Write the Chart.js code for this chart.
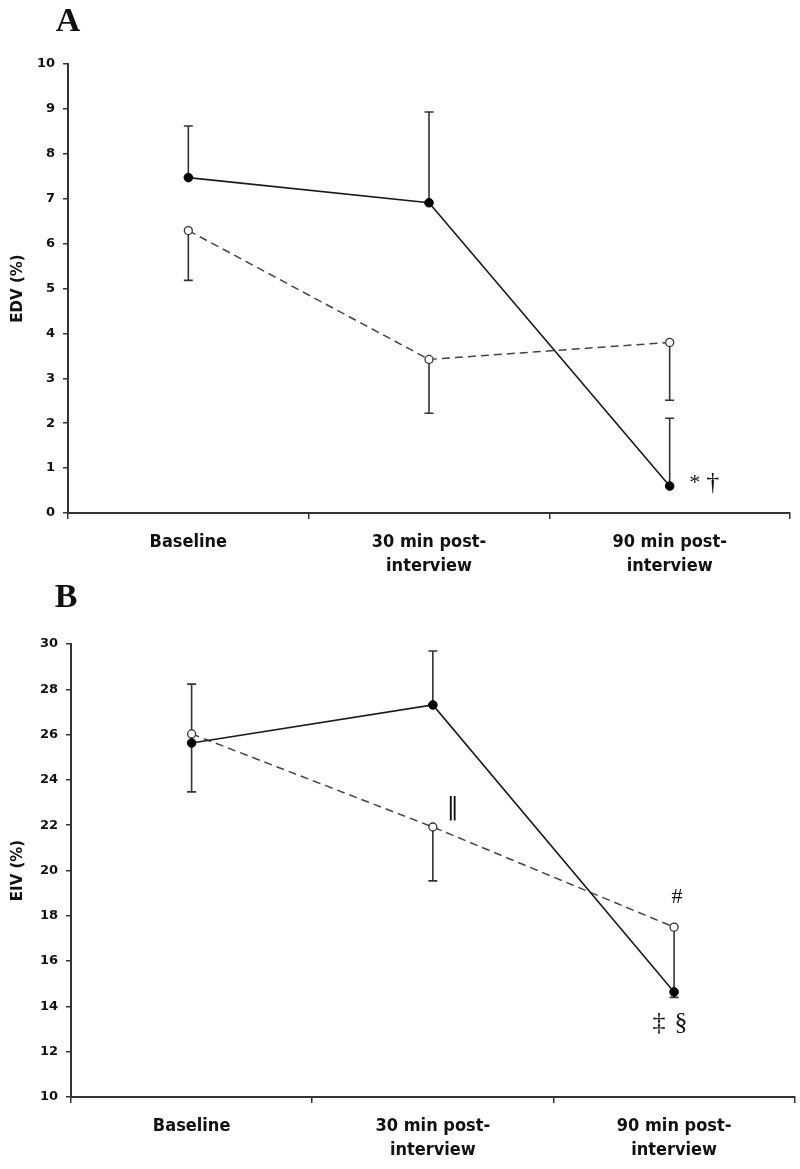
<!DOCTYPE html>
<html>
<head>
<meta charset="utf-8">
<script src="https://cdn.jsdelivr.net/npm/chart.js@4.4.1/dist/chart.umd.min.js"></script>
<style>
  html, body { margin: 0; padding: 0; background: #fff; }
  body { width: 800px; height: 1169px; position: relative; overflow: hidden; }
  .box { position: absolute; left: 0; width: 800px; }
  #boxA { top: 0; height: 580px; }
  #boxB { top: 580px; height: 589px; }
</style>
</head>
<body>
<div class="box" id="boxA"><canvas id="chartA"></canvas></div>
<div class="box" id="boxB"><canvas id="chartB"></canvas></div>
<script>
// ---- data ----
const categories = ['Baseline', ['30 min post-', 'interview'], ['90 min post-', 'interview']];

// Panel A : EDV (%)
const edvSolid = [7.47, 6.91, 0.60];
const edvSolidSD = [1.15, 2.02, 1.51];     // drawn upward
const edvDashed = [6.29, 3.42, 3.80];
const edvDashedSD = [1.11, 1.20, 1.29];    // drawn downward
const edvTicks = { min: 0, max: 10, step: 1 };

// Panel B : EIV (%)
const eivSolid = [25.63, 27.31, 14.64];
const eivSolidSD = [2.60, 2.38, null];     // drawn upward
const eivDashed = [26.03, 21.92, 17.50];
const eivDashedSD = [2.56, 2.38, 3.10];    // drawn downward
const eivTicks = { min: 10, max: 30, step: 2 };

// significance marks: [text, category index, dataset index]
const edvMarks = [['*', 2, 0], ['\u2020', 2, 0]];
const eivMarks = [['\u2016', 1, 1], ['#', 2, 1], ['\u2021', 2, 0], ['\u00A7', 2, 0]];

// ---- styling ----
const INK = '#1a1a1a';
const DASH = '#444';
const tickFont = { family: "'DejaVu Sans', Verdana, sans-serif", size: 13, weight: 'bold' };
const catFont = { family: "'DejaVu Sans Condensed', 'DejaVu Sans', sans-serif", size: 18, weight: 'bold', lineHeight: 1.3 };
const titleFont = { family: "'DejaVu Sans', Verdana, sans-serif", size: 15, weight: 'bold' };

const errorBars = {
  id: 'errorBars',
  beforeDatasetsDraw(chart) {
    const ctx = chart.ctx;
    const y = chart.scales.y;
    ctx.save();
    ctx.strokeStyle = '#333';
    ctx.lineWidth = 1.6;
    chart.data.datasets.forEach((ds, di) => {
      const meta = chart.getDatasetMeta(di);
      ds.sd.forEach((sd, i) => {
        if (sd == null) return;
        const pt = meta.data[i];
        const v = ds.data[i];
        const end = y.getPixelForValue(v + ds.dir * sd);
        ctx.beginPath();
        ctx.moveTo(pt.x, pt.y);
        ctx.lineTo(pt.x, end);
        ctx.moveTo(pt.x - 4.5, end);
        ctx.lineTo(pt.x + 4.5, end);
        ctx.stroke();
      });
    });
    ctx.restore();
  }
};

const marks = {
  id: 'marks',
  afterDatasetsDraw(chart, args, opts) {
    const ctx = chart.ctx;
    ctx.save();
    ctx.fillStyle = '#111';
    ctx.textAlign = 'center';
    ctx.textBaseline = 'middle';
    (opts.items || []).forEach(m => {
      const pt = chart.getDatasetMeta(m.ds).data[m.i];
      ctx.font = m.font;
      ctx.fillText(m.text, pt.x + m.dx, pt.y + m.dy);
    });
    if (opts.letter) {
      ctx.font = "bold 34px 'Liberation Serif', 'Times New Roman', serif";
      ctx.fillText(opts.letter, chart.chartArea.left + opts.letterDx, opts.letterY);
    }
    ctx.restore();
  }
};

function buildChart(id, cfg) {
  const datasets = [
    {
      data: cfg.solid, sd: cfg.solidSD, dir: 1,
      borderColor: INK, borderWidth: 1.6,
      pointRadius: 4.3, pointBackgroundColor: '#000', pointBorderColor: '#000', pointBorderWidth: 1,
      tension: 0, clip: false
    },
    {
      data: cfg.dashed, sd: cfg.dashedSD, dir: -1,
      borderColor: DASH, borderWidth: 1.5, borderDash: [8, 5],
      pointRadius: 4, pointBackgroundColor: '#fff', pointBorderColor: '#333', pointBorderWidth: 1.3,
      tension: 0, clip: false
    }
  ];
  return new Chart(document.getElementById(id), {
    type: 'line',
    data: { labels: categories, datasets },
    options: {
      responsive: true,
      maintainAspectRatio: false,
      animation: false,
      events: [],
      layout: { padding: { left: 0, right: cfg.padRight, top: cfg.padTop, bottom: 0 } },
      plugins: {
        legend: { display: false },
        tooltip: { enabled: false },
        marks: { items: cfg.marks, letter: cfg.letter, letterDx: cfg.letterDx, letterY: cfg.letterY }
      },
      scales: {
        x: {
          type: 'category',
          offset: true,
          afterFit: s => { s.height = cfg.xHeight; },
          border: { display: true, color: '#333', width: 2 },
          grid: { offset: true, display: true, drawOnChartArea: false, drawTicks: true, tickLength: 6, color: '#333', lineWidth: 1.5 },
          ticks: { color: '#111', font: catFont, padding: 12, maxRotation: 0, autoSkip: false }
        },
        y: {
          min: cfg.ticks.min, max: cfg.ticks.max,
          afterFit: s => { s.width = cfg.yWidth; },
          border: { display: true, color: '#333', width: 2 },
          grid: { display: true, drawOnChartArea: false, drawTicks: true, tickLength: 5, color: '#333', lineWidth: 1.5 },
          ticks: { stepSize: cfg.ticks.step, color: '#111', font: tickFont, padding: 8 },
          title: { display: true, text: cfg.yTitle, color: '#111', font: titleFont, padding: { top: 9, bottom: 0 } }
        }
      }
    },
    plugins: [errorBars, marks]
  });
}

const serif = "22px 'Liberation Serif', 'Times New Roman', serif";
const serifBig = "26px 'Liberation Serif', 'Times New Roman', serif";

buildChart('chartA', {
  solid: edvSolid, solidSD: edvSolidSD, dashed: edvDashed, dashedSD: edvDashedSD,
  ticks: edvTicks, yTitle: 'EDV (%)',
  padTop: 64, padRight: 10, xHeight: 67, yWidth: 68,
  letter: 'A', letterDx: 0, letterY: 22,
  marks: [
    { text: edvMarks[0][0], i: edvMarks[0][1], ds: edvMarks[0][2], dx: 25, dy: -3, font: serif },
    { text: edvMarks[1][0], i: edvMarks[1][1], ds: edvMarks[1][2], dx: 43, dy: -3, font: serifBig }
  ]
});

buildChart('chartB', {
  solid: eivSolid, solidSD: eivSolidSD, dashed: eivDashed, dashedSD: eivDashedSD,
  ticks: eivTicks, yTitle: 'EIV (%)',
  padTop: 64, padRight: 0, xHeight: 72, yWidth: 71,
  letter: 'B', letterDx: -5, letterY: 18,
  marks: [
    { text: eivMarks[0][0], i: eivMarks[0][1], ds: eivMarks[0][2], dx: 20, dy: -19, font: "24px 'DejaVu Serif', serif" },
    { text: eivMarks[1][0], i: eivMarks[1][1], ds: eivMarks[1][2], dx: 3, dy: -30, font: serif },
    { text: eivMarks[2][0], i: eivMarks[2][1], ds: eivMarks[2][2], dx: -15, dy: 31, font: serifBig },
    { text: eivMarks[3][0], i: eivMarks[3][1], ds: eivMarks[3][2], dx: 7, dy: 31, font: serifBig }
  ]
});
</script>
</body>
</html>
